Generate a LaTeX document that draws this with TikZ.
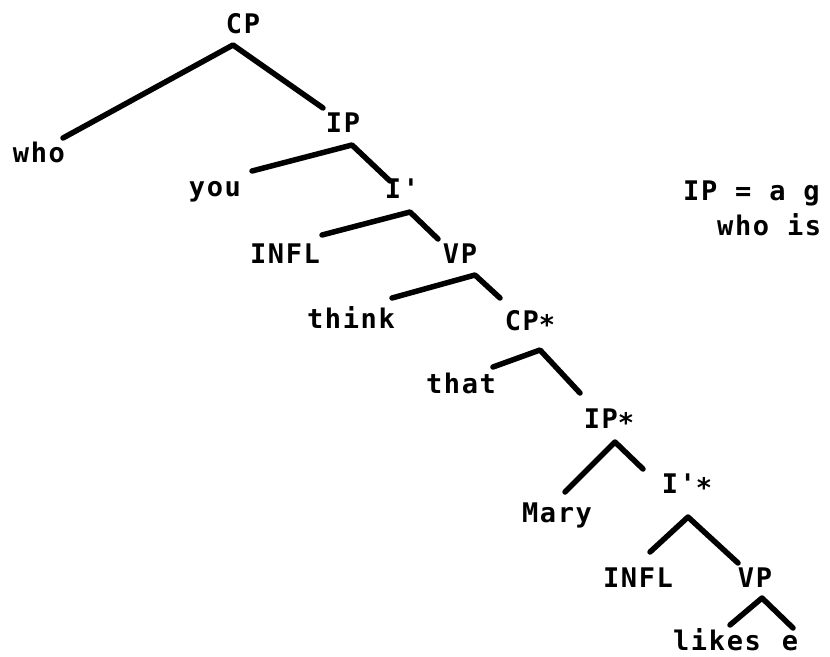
\documentclass[tikz,border=0pt]{standalone}
\usepackage{fontspec}
\newfontfamily\dotfont[LetterSpace=6]{DejaVu Sans Mono Bold}
\newcommand{\lowstar}{\raisebox{-0.18em}{*}}
\begin{document}
\begin{tikzpicture}[x=1pt,y=-1pt,
  lbl/.style={font=\dotfont\fontsize{27}{29}\selectfont, inner sep=0pt, anchor=base},
  note/.style={lbl, anchor=base west},
  branch/.style={line width=5.5pt, line cap=round, line join=round}]
\useasboundingbox (0,0) rectangle (830,656);
% labels
\node[lbl] (CP) at (243,33) {CP};
\node[lbl] (who) at (39,162) {who};
\node[lbl] (IP) at (343,132) {IP};
\node[lbl] (you) at (215,196) {you};
\node[lbl] (Ib) at (402,198) {I'};
\node[lbl] (INFL) at (285,263) {INFL};
\node[lbl] (VP) at (460,263) {VP};
\node[lbl] (think) at (351,328) {think};
\node[lbl] (CPs) at (530,330) {CP\lowstar};
\node[lbl] (that) at (461,393) {that};
\node[lbl] (IPs) at (609,428) {IP\lowstar};
\node[lbl] (Mary) at (557,522) {Mary};
\node[lbl] (Ibs) at (687,493) {I'\lowstar};
\node[lbl] (INFLb) at (638,587) {INFL};
\node[lbl] (VPb) at (755,587) {VP};
\node[lbl] (likes) at (717,650) {likes};
\node[lbl] (e) at (790,650) {e};
\node[note] (n1) at (683,200) {IP = a g};
\node[note] (n2) at (717,235) {who is};
% branch points
\coordinate (cpA) at (233,45);  \coordinate (whoE) at (63,138);  \coordinate (ipE) at (323,108);
\coordinate (ipA) at (352,145); \coordinate (youE) at (252,171); \coordinate (ibE) at (390,181);
\coordinate (ibA) at (410,212); \coordinate (inflE) at (322,235); \coordinate (vpE) at (438,239);
\coordinate (vpA) at (475,275); \coordinate (thinkE) at (392,298); \coordinate (cpsE) at (500,298);
\coordinate (cpsA) at (540,350); \coordinate (thatE) at (493,367); \coordinate (ipsE) at (580,393);
\coordinate (ipsA) at (615,442); \coordinate (maryE) at (565,492); \coordinate (ibsE) at (643,469);
\coordinate (ibsA) at (688,517); \coordinate (inflbE) at (650,552); \coordinate (vpbE) at (738,563);
\coordinate (vpbA) at (762,598); \coordinate (likesE) at (730,625); \coordinate (eE) at (793,628);
% branches
\draw[branch] (whoE) -- (cpA) -- (ipE);
\draw[branch] (youE) -- (ipA) -- (ibE);
\draw[branch] (inflE) -- (ibA) -- (vpE);
\draw[branch] (thinkE) -- (vpA) -- (cpsE);
\draw[branch] (thatE) -- (cpsA) -- (ipsE);
\draw[branch] (maryE) -- (ipsA) -- (ibsE);
\draw[branch] (inflbE) -- (ibsA) -- (vpbE);
\draw[branch] (likesE) -- (vpbA) -- (eE);
\end{tikzpicture}
\end{document}
